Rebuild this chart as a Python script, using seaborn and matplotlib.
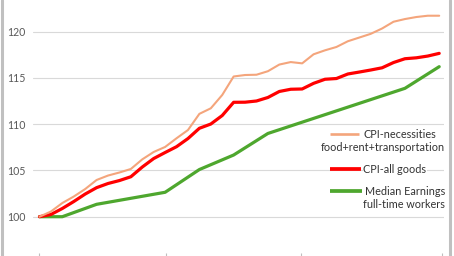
import numpy as np
import pandas as pd
import matplotlib
matplotlib.use("Agg")
import matplotlib.pyplot as plt
from matplotlib.lines import Line2D
import seaborn as sns

# ---- data ----
cpi_necessities = [100.0, 100.56, 101.48, 102.18, 102.99, 103.97, 104.45, 104.78, 105.16, 106.2,
                   107.0, 107.54, 108.48, 109.37, 111.12, 111.72, 113.16, 115.16, 115.32, 115.35,
                   115.73, 116.45, 116.72, 116.58, 117.56, 117.99, 118.35, 118.97, 119.37, 119.77,
                   120.35, 121.08, 121.37, 121.59, 121.73, 121.73]
cpi_all = [100.0, 100.24, 100.89, 101.64, 102.45, 103.14, 103.59, 103.91, 104.32, 105.37,
           106.29, 106.94, 107.57, 108.45, 109.56, 110.02, 110.94, 112.37, 112.38, 112.51,
           112.89, 113.54, 113.78, 113.81, 114.42, 114.86, 114.94, 115.43, 115.64, 115.86,
           116.10, 116.67, 117.08, 117.18, 117.37, 117.66]
periods = list(range(len(cpi_all)))
earnings_periods = [0, 2, 5, 11, 14, 17, 20, 32, 35]
earnings = [100.0, 100.0, 101.34, 102.64, 105.10, 106.67, 109.0, 113.88, 116.22]
y_ticks = [100, 105, 110, 115, 120]
x_tick_pos = [0, 11.05, 22.9, 35.25]

names = ["CPI-necessities", "CPI-all goods", "Median Earnings"]
legend_text = [["CPI-necessities", "food+rent+transportation"],
               ["CPI-all goods"],
               ["Median Earnings", "full-time workers"]]
colors = {"CPI-necessities": "#F4A57C", "CPI-all goods": "#FF0000", "Median Earnings": "#4EA72E"}
widths = {"CPI-necessities": 1.5, "CPI-all goods": 2.3, "Median Earnings": 2.3}

df = pd.concat([
    pd.DataFrame({"period": periods, "value": cpi_necessities, "series": names[0]}),
    pd.DataFrame({"period": periods, "value": cpi_all, "series": names[1]}),
    pd.DataFrame({"period": earnings_periods, "value": earnings, "series": names[2]}),
], ignore_index=True)

sns.set_style("white")
plt.rcParams['font.family'] = ['Lato', 'DejaVu Sans']

W, H = 454, 256
fig = plt.figure(figsize=(W / 100, H / 100), dpi=100)
ax = fig.add_axes([33 / W, -2 / H, 411 / W, 258 / H])

sns.lineplot(data=df, x="period", y="value", hue="series", size="series",
             hue_order=names[::-1], palette=colors, sizes=widths, legend=False,
             ax=ax, sort=False)
ax.set_xlim(-0.569, 35.42)
ax.set_ylim(95.535, 123.43)
ax.set_yticks(y_ticks)
ax.set_yticklabels([str(t) for t in y_ticks])
ax.set_xticks(x_tick_pos)
ax.set_xticklabels([])
ax.set_xlabel("")
ax.set_ylabel("")
ax.grid(axis="y", color="#D9D9D9", linewidth=0.8)
ax.set_axisbelow(True)
for s in ax.spines.values():
    s.set_visible(False)
ax.tick_params(axis="y", length=0, pad=5.6, labelsize=7.6, labelcolor="#595959")
ax.tick_params(axis="x", direction="in", length=3.6, width=0.8, color="#BFBFBF", bottom=True)
ax.patch.set_alpha(0)


def px(x, y):
    return x / W, 1 - y / H


# legend (manual layout to match)
handles_y = [134, 169.3, 190.7]
handle_x = [(330, 359), (330, 361), (330, 361.7)]
text_pos = [[(363.3, 134.7), (321, 147.7)], [(363.3, 169.3)], [(365, 191.5), (363.3, 205)]]
for name, hy, hx, lines, poss in zip(names, handles_y, handle_x, legend_text, text_pos):
    x0, y0 = px(hx[0], hy)
    x1, _ = px(hx[1], hy)
    fig.add_artist(Line2D([x0, x1], [y0, y0], transform=fig.transFigure,
                          color=colors[name], linewidth=widths[name] + 0.4,
                          solid_capstyle="butt"))
    for t, (tx, ty) in zip(lines, poss):
        fx, fy = px(tx, ty)
        fig.text(fx, fy, t, ha="left", va="center", fontsize=7.8, color="#333333",
                 bbox=dict(facecolor="white", edgecolor="none", pad=0.5))

# chart border lines left / right
for bx in (2, 450):
    fx, _ = px(bx, 0)
    fig.add_artist(Line2D([fx, fx], [0, 1], transform=fig.transFigure,
                          color="#C0C0C0", linewidth=2.2))

fig.savefig("out.png", dpi=100)
